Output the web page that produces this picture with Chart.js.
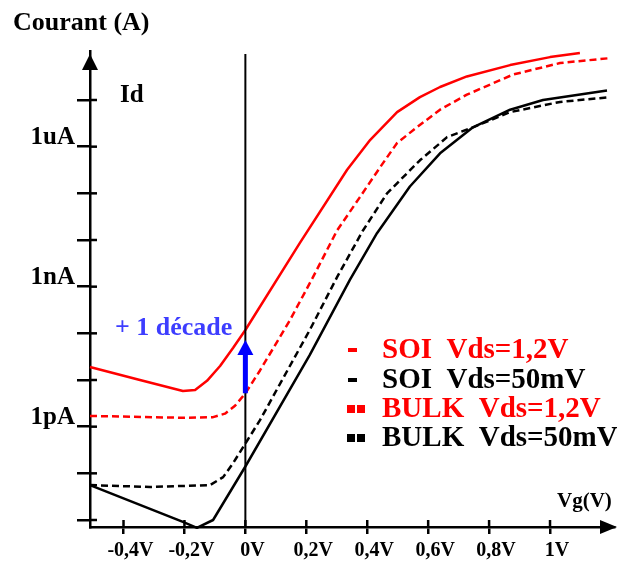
<!DOCTYPE html>
<html>
<head>
<meta charset="utf-8">
<script src="https://cdn.jsdelivr.net/npm/chart.js@4"></script>
<style>
  body { margin: 0; background: #fff; }
  canvas { display: block; }
</style>
</head>
<body>
<canvas id="myChart" width="617" height="562"></canvas>
<script>
// Vg (V) / Id (A)
const soiHighVg = [-0.51, -0.346, -0.205, -0.165, -0.126, -0.083, -0.04, 0, 0.179, 0.334, 0.41, 0.498, 0.573, 0.639, 0.727, 0.869, 1.0, 1.098];
const soiHighId = [1.9e-11, 1.0e-11, 5.8e-12, 6.1e-12, 9.6e-12, 2.0e-11, 4.9e-11, 1.18e-10, 8.7e-9, 3.2e-7, 1.4e-6, 5.5e-6, 1.15e-5, 1.9e-5, 3.2e-5, 5.6e-5, 8.3e-5, 1.02e-4];

const bulkHighVg = [-0.51, -0.205, -0.106, -0.067, -0.034, 0, 0.048, 0.146, 0.222, 0.301, 0.376, 0.442, 0.498, 0.563, 0.639, 0.727, 0.878, 1.033, 1.197];
const bulkHighId = [1.7e-12, 1.55e-12, 1.6e-12, 1.9e-12, 2.8e-12, 5.2e-12, 1.6e-11, 1.9e-10, 1.6e-9, 1.6e-8, 8.3e-8, 3.6e-7, 1.2e-6, 2.6e-6, 6.2e-6, 1.3e-5, 3.5e-5, 6.2e-5, 7.9e-5];

const soiLowVg = [-0.51, -0.205, -0.159, -0.106, 0, 0.212, 0.343, 0.432, 0.54, 0.639, 0.747, 0.869, 0.977, 1.187];
const soiLowId = [5.6e-14, 9.1e-15, 6.8e-15, 1.0e-14, 1.4e-13, 3.5e-11, 1.4e-9, 1.4e-8, 1.4e-7, 7.2e-7, 2.6e-6, 6.2e-6, 1.0e-5, 1.6e-5];

const bulkLowVg = [-0.51, -0.313, -0.116, -0.073, -0.04, -0.008, 0.048, 0.212, 0.301, 0.386, 0.465, 0.573, 0.662, 0.747, 0.869, 1.033, 1.197];
const bulkLowId = [5.6e-14, 5.1e-14, 5.6e-14, 8.3e-14, 1.66e-13, 3.6e-13, 1.38e-12, 1.2e-10, 1.6e-9, 1.6e-8, 1.0e-7, 5.1e-7, 1.6e-6, 2.6e-6, 5.5e-6, 9.1e-6, 1.15e-5];

const xTicks = [-0.4, -0.2, 0, 0.2, 0.4, 0.6, 0.8, 1.0];
const yTicks = [1e-14, 1e-13, 1e-12, 1e-11, 1e-10, 1e-9, 1e-8, 1e-7, 1e-6, 1e-5];
const yTickLabels = { '1e-12': '1pA', '1e-9': '1nA', '1e-6': '1uA' };

const legendLabels = ['SOI  Vds=1,2V', 'SOI  Vds=50mV', 'BULK  Vds=1,2V', 'BULK  Vds=50mV'];
const legendColors = ['#ff0000', '#000000', '#ff0000', '#000000'];

const SERIF = '"Liberation Serif", "Times New Roman", serif';

function pts(xs, ys) {
  return xs.map((x, i) => ({ x: x, y: ys[i] }));
}

function xLabel(v) {
  if (Math.abs(v) < 1e-9) return '0V';
  if (Math.abs(v - 1) < 1e-9) return '1V';
  return v.toFixed(1).replace('.', ',') + 'V';
}

// axes arrows, inner tick halves, 0V line, free texts and legend
const decorations = {
  id: 'decorations',
  afterDraw(chart) {
    const ctx = chart.ctx;
    const area = chart.chartArea;
    const xs = chart.scales.x;
    const ys = chart.scales.y;
    ctx.save();

    // vertical line at Vg = 0
    const x0 = xs.getPixelForValue(0);
    ctx.strokeStyle = '#000';
    ctx.lineWidth = 2;
    ctx.beginPath();
    ctx.moveTo(x0, area.top + 3);
    ctx.lineTo(x0, area.bottom);
    ctx.stroke();

    // tick parts inside the plot
    ctx.lineWidth = 2.5;
    yTicks.forEach(v => {
      const y = ys.getPixelForValue(v);
      ctx.beginPath();
      ctx.moveTo(area.left, y);
      ctx.lineTo(area.left + 7, y);
      ctx.stroke();
    });
    xTicks.forEach(v => {
      const x = xs.getPixelForValue(v);
      ctx.beginPath();
      ctx.moveTo(x, area.bottom);
      ctx.lineTo(x, area.bottom - 7);
      ctx.stroke();
    });

    // arrow heads
    ctx.fillStyle = '#000';
    ctx.beginPath();
    ctx.moveTo(area.left, area.top + 3);
    ctx.lineTo(area.left - 8, area.top + 19);
    ctx.lineTo(area.left + 8, area.top + 19);
    ctx.closePath();
    ctx.fill();
    ctx.beginPath();
    ctx.moveTo(area.right + 3, area.bottom);
    ctx.lineTo(area.right - 14, area.bottom - 7);
    ctx.lineTo(area.right - 14, area.bottom + 7);
    ctx.closePath();
    ctx.fill();

    // blue "+1 decade" arrow
    const yA = ys.getPixelForValue(bulkHighId[5]);
    const yB = ys.getPixelForValue(soiHighId[7]) + 10;
    ctx.strokeStyle = '#0000ff';
    ctx.fillStyle = '#0000ff';
    ctx.lineWidth = 5;
    ctx.beginPath();
    ctx.moveTo(x0, yA);
    ctx.lineTo(x0, yB + 12);
    ctx.stroke();
    ctx.beginPath();
    ctx.moveTo(x0, yB);
    ctx.lineTo(x0 - 8, yB + 15);
    ctx.lineTo(x0 + 8, yB + 15);
    ctx.closePath();
    ctx.fill();

    // texts
    ctx.textBaseline = 'alphabetic';
    ctx.textAlign = 'left';
    ctx.fillStyle = '#000';
    ctx.font = 'bold 26px ' + SERIF;
    ctx.fillText('Courant (A)', 13, 30);
    ctx.font = 'bold 25px ' + SERIF;
    ctx.fillText('Id', 120, 102);
    ctx.font = 'bold 21px ' + SERIF;
    ctx.fillText('Vg(V)', 557, 507);
    ctx.fillStyle = '#3d3dff';
    ctx.font = 'bold 26px ' + SERIF;
    ctx.fillText('+ 1 décade', 115, 335);

    // legend
    const baselines = [358, 388, 417, 446];
    ctx.font = 'bold 29px ' + SERIF;
    legendLabels.forEach((lab, i) => {
      const b = baselines[i];
      ctx.fillStyle = legendColors[i];
      if (i < 2) {
        ctx.fillRect(348, b - 10, 9, 4);
      } else {
        ctx.fillRect(347, b - 12, 8, 8);
        ctx.fillRect(357, b - 12, 8, 8);
      }
      ctx.fillText(lab, 382, b);
    });

    ctx.restore();
  }
};

const ctx = document.getElementById('myChart');

new Chart(ctx, {
  type: 'line',
  data: {
    datasets: [
      { label: legendLabels[0], data: pts(soiHighVg, soiHighId), borderColor: '#ff0000' },
      { label: legendLabels[2], data: pts(bulkHighVg, bulkHighId), borderColor: '#ff0000', borderDash: [7, 4] },
      { label: legendLabels[1], data: pts(soiLowVg, soiLowId), borderColor: '#000000' },
      { label: legendLabels[3], data: pts(bulkLowVg, bulkLowId), borderColor: '#000000', borderDash: [7, 4] }
    ]
  },
  options: {
    responsive: false,
    animation: false,
    layout: { padding: { top: 51, right: 3, left: 0, bottom: 0 } },
    elements: {
      point: { radius: 0 },
      line: { borderWidth: 2.5, tension: 0, borderJoinStyle: 'round', fill: false }
    },
    datasets: { line: { clip: false } },
    plugins: {
      legend: { display: false },
      tooltip: { enabled: false }
    },
    scales: {
      x: {
        type: 'linear',
        min: -0.51,
        max: 1.21,
        afterFit: s => { s.height = 35; },
        afterBuildTicks: s => { s.ticks = xTicks.map(v => ({ value: v })); },
        grid: { drawOnChartArea: false, color: '#000', lineWidth: 2.5, tickLength: 7 },
        border: { color: '#000', width: 2.5 },
        ticks: {
          autoSkip: false,
          maxRotation: 0,
          padding: 5,
          labelOffset: 7,
          color: '#000',
          font: { family: SERIF, size: 20, weight: 'bold' },
          callback: v => xLabel(v)
        }
      },
      y: {
        type: 'logarithmic',
        min: Math.pow(10, -14.15),
        max: Math.pow(10, -3.95),
        afterFit: s => { s.width = 90; },
        afterBuildTicks: s => { s.ticks = yTicks.map(v => ({ value: v })); },
        grid: { drawOnChartArea: false, color: '#000', lineWidth: 2.5, tickLength: 13 },
        border: { color: '#000', width: 2.5 },
        ticks: {
          autoSkip: false,
          padding: 2,
          labelOffset: -9,
          color: '#000',
          font: { family: SERIF, size: 25, weight: 'bold' },
          callback: v => yTickLabels[Number(v).toExponential(0)] || ''
        }
      }
    }
  },
  plugins: [decorations]
});
</script>
</body>
</html>
